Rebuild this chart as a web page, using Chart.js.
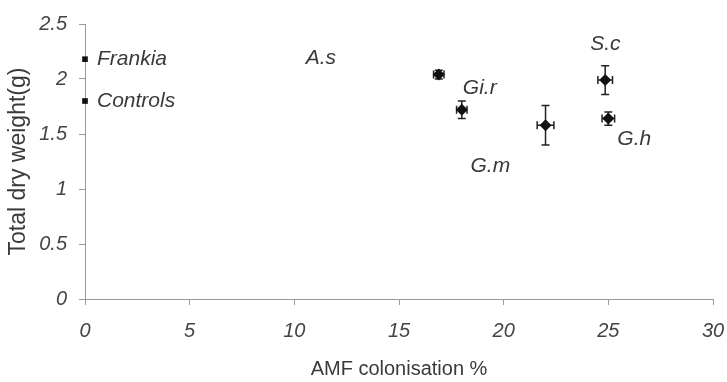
<!DOCTYPE html>
<html>
<head>
<meta charset="utf-8">
<script src="https://cdn.jsdelivr.net/npm/chart.js@4"></script>
<style>
  body { margin: 0; background: #fff; }
  #wrap { width: 727px; height: 382px; }
</style>
</head>
<body>
<div id="wrap"><canvas id="chart" width="727" height="382"></canvas></div>
<script>
// data
const groups = ["Frankia", "Controls", "A.s", "Gi.r", "G.m", "S.c", "G.h"];
const colonisation = [0, 0, 16.9, 18, 22, 24.85, 25];
const dryWeight = [2.18, 1.8, 2.04, 1.72, 1.58, 1.99, 1.64];
const colonisationErr = [0, 0, 0.25, 0.25, 0.4, 0.35, 0.3];
const weightErr = [0, 0, 0.04, 0.08, 0.18, 0.13, 0.06];

// label offsets in px from the point (left edge, vertical middle)
const labelOffsets = [[12, 0], [12, 0], [-133, -16], [1, -22], [-75, 41], [-15, -36], [9, 21]];
const markers = ["rect", "rect", "rectRot", "rectRot", "rectRot", "rectRot", "rectRot"];

const textColor = "#3a3a3a";

// error bars + text labels drawn through the chart scales
const extras = {
  id: "extras",
  beforeDatasetsDraw(chart) {
    const { ctx, scales: { x, y } } = chart;
    ctx.save();
    ctx.strokeStyle = "#222";
    ctx.lineWidth = 1.5;
    const cap = 4;
    colonisation.forEach((cx, i) => {
      if (!weightErr[i] && !colonisationErr[i]) return;
      const px = x.getPixelForValue(cx);
      const py = y.getPixelForValue(dryWeight[i]);
      const top = y.getPixelForValue(dryWeight[i] + weightErr[i]);
      const bot = y.getPixelForValue(dryWeight[i] - weightErr[i]);
      const l = x.getPixelForValue(cx - colonisationErr[i]);
      const r = x.getPixelForValue(cx + colonisationErr[i]);
      ctx.beginPath();
      ctx.moveTo(px, top); ctx.lineTo(px, bot);
      ctx.moveTo(px - cap, top); ctx.lineTo(px + cap, top);
      ctx.moveTo(px - cap, bot); ctx.lineTo(px + cap, bot);
      ctx.moveTo(l, py); ctx.lineTo(r, py);
      ctx.moveTo(l, py - cap); ctx.lineTo(l, py + cap);
      ctx.moveTo(r, py - cap); ctx.lineTo(r, py + cap);
      ctx.stroke();
    });
    ctx.restore();
  },
  afterDraw(chart) {
    const { ctx, scales: { x, y } } = chart;
    ctx.save();
    ctx.font = "italic 21px 'Liberation Sans', Arial, sans-serif";
    ctx.fillStyle = textColor;
    ctx.textBaseline = "middle";
    groups.forEach((g, i) => {
      const px = x.getPixelForValue(colonisation[i]);
      const py = y.getPixelForValue(dryWeight[i]);
      ctx.fillText(g, px + labelOffsets[i][0], py + labelOffsets[i][1]);
    });
    ctx.restore();
  }
};

const tickFont = { family: "'Liberation Sans', Arial, sans-serif", size: 20, style: "italic" };
const titleFont = { family: "'Liberation Sans', Arial, sans-serif", size: 20 };

new Chart(document.getElementById("chart"), {
  type: "scatter",
  data: {
    datasets: [{
      data: colonisation.map((cx, i) => ({ x: cx, y: dryWeight[i] })),
      pointStyle: markers,
      pointRadius: markers.map(m => (m === "rect" ? 4 : 6)),
      backgroundColor: "#111",
      borderColor: "#111",
      borderWidth: 0,
      clip: false
    }]
  },
  options: {
    responsive: false,
    animation: false,
    layout: { padding: { top: 22, right: 14 } },
    plugins: { legend: { display: false }, tooltip: { enabled: false } },
    scales: {
      x: {
        min: 0, max: 30,
        ticks: { stepSize: 5, font: tickFont, color: "#444", padding: 14, maxRotation: 0 },
        grid: { drawOnChartArea: false, tickLength: 6, color: "#999" },
        border: { color: "#999", width: 1 },
        title: { display: true, text: "AMF colonisation %", font: titleFont, color: textColor, padding: { top: 0, bottom: 1 } },
        afterFit(s) { s.height = 83; s.paddingRight = 0; s.paddingLeft = 0; }
      },
      y: {
        min: 0, max: 2.5,
        ticks: { stepSize: 0.5, font: tickFont, color: "#444", padding: 12, callback: v => String(v) },
        grid: { drawOnChartArea: false, tickLength: 6, color: "#999" },
        border: { color: "#999", width: 1 },
        title: { display: true, text: "Total dry weight(g)", font: { ...titleFont, size: 23 }, color: textColor, padding: { top: 5, bottom: 0 } },
        afterFit(s) { s.width = 85; }
      }
    }
  },
  plugins: [extras]
});
</script>
</body>
</html>
